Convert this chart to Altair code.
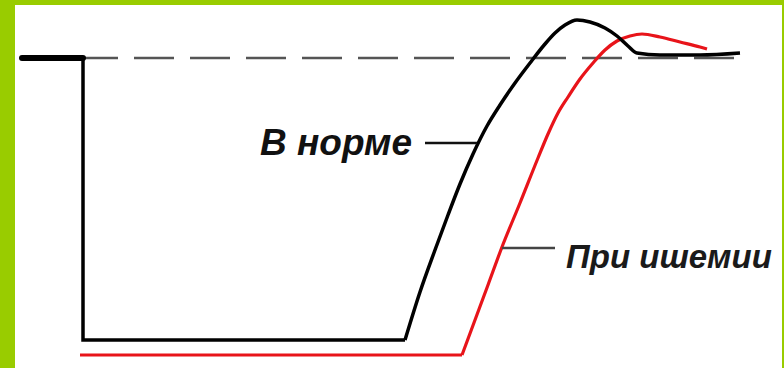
import altair as alt
import pandas as pd

# Time axis (ms-like units) and pressure level for the normal response
normal_t = [83, 83, 405, 420, 435, 448, 460, 473, 487, 500, 515, 530, 545,
            555, 565, 577, 590, 605, 617, 628, 637, 660, 700, 740]
normal_p = [310, 28, 28, 76, 118, 153, 184, 214, 242, 263, 285, 305, 324,
            335, 343, 348, 346, 340, 332, 322, 315, 313, 313, 315]

# Response under ischemia
ischemia_t = [80, 462, 475, 488, 502, 520, 538, 548, 558, 568, 580, 593, 605,
              617, 630, 642, 660, 680, 700, 707]
ischemia_p = [13, 13, 48, 83, 121, 165, 210, 234, 255, 271, 289, 305, 318,
              327, 332, 334, 331, 326, 321, 319]

# Baseline level before the drop
baseline_level = 310
baseline_start, baseline_end = 22, 83
reference_end = 740

labels = ["В норме", "При ишемии"]
label_t = [260, 566]
label_p = [213, 100]
leader_t = [(425, 477), (502, 555)]
leader_p = [225, 120]

x_scale = alt.Scale(domain=[15, 782])
y_scale = alt.Scale(domain=[0, 363])
X = lambda f: alt.X(f, type="quantitative", scale=x_scale, axis=None)
Y = lambda f: alt.Y(f, type="quantitative", scale=y_scale, axis=None)


def frame(ts, ps):
    return pd.DataFrame({"t": ts, "p": ps, "i": range(len(ts))})


# straight drop and plateau, then the smooth recovery
normal_flat = frame(normal_t[:3], normal_p[:3])
normal_rise = frame(normal_t[2:], normal_p[2:])
ischemia_flat = frame(ischemia_t[:2], ischemia_p[:2])
ischemia_rise = frame(ischemia_t[1:], ischemia_p[1:])

ref = pd.DataFrame({"t": [baseline_start], "t2": [reference_end], "p": [baseline_level]})
stub = pd.DataFrame({"t": [baseline_start], "t2": [baseline_end], "p": [baseline_level]})
leaders = pd.DataFrame({
    "t": [a for a, _ in leader_t],
    "t2": [b for _, b in leader_t],
    "p": leader_p,
    "c": ["#111111", "#444444"],
})
text_df = pd.DataFrame({"label": labels, "t": label_t, "p": label_p})

dashed = alt.Chart(ref).mark_rule(
    color="#555555", strokeWidth=2.5, strokeDash=[40, 16]
).encode(x=X("t"), x2="t2", y=Y("p"))

stub_line = alt.Chart(stub).mark_rule(
    color="#000000", strokeWidth=6, strokeCap="round"
).encode(x=X("t"), x2="t2", y=Y("p"))


def curve(df, color, interp, width):
    return alt.Chart(df).mark_line(
        color=color, strokeWidth=width, interpolate=interp
    ).encode(x=X("t"), y=Y("p"), order="i:Q")


RED = "#e8141a"
lines = [
    curve(ischemia_flat, RED, "linear", 3.2),
    curve(ischemia_rise, RED, "monotone", 3.2),
    curve(normal_flat, "#000000", "linear", 3.5),
    curve(normal_rise, "#000000", "monotone", 3.5),
]

leader_lines = alt.Chart(leaders).mark_rule(strokeWidth=2.5).encode(
    x=X("t"), x2="t2", y=Y("p"), color=alt.Color("c:N", scale=None)
)

label_normal = alt.Chart(text_df.iloc[[0]]).mark_text(
    align="left", baseline="alphabetic", font="Liberation Sans",
    fontSize=37, fontStyle="italic", fontWeight="bold", color="#111111"
).encode(x=X("t"), y=Y("p"), text="label:N")

label_isch = alt.Chart(text_df.iloc[[1]]).mark_text(
    align="left", baseline="alphabetic", font="Liberation Sans",
    fontSize=33, fontStyle="italic", fontWeight="bold", color="#1a1a1a"
).encode(x=X("t"), y=Y("p"), text="label:N")

chart = alt.layer(
    dashed, *lines, stub_line, leader_lines, label_normal, label_isch
).properties(
    width=767, height=363,
    background="#99CC00",
    padding={"left": 15, "top": 5, "right": 2, "bottom": 0},
    autosize=alt.AutoSizeParams(type="none"),
).configure_view(fill="white", strokeWidth=0)

chart.save("out.html", embed_options={"renderer": "svg", "actions": False})
